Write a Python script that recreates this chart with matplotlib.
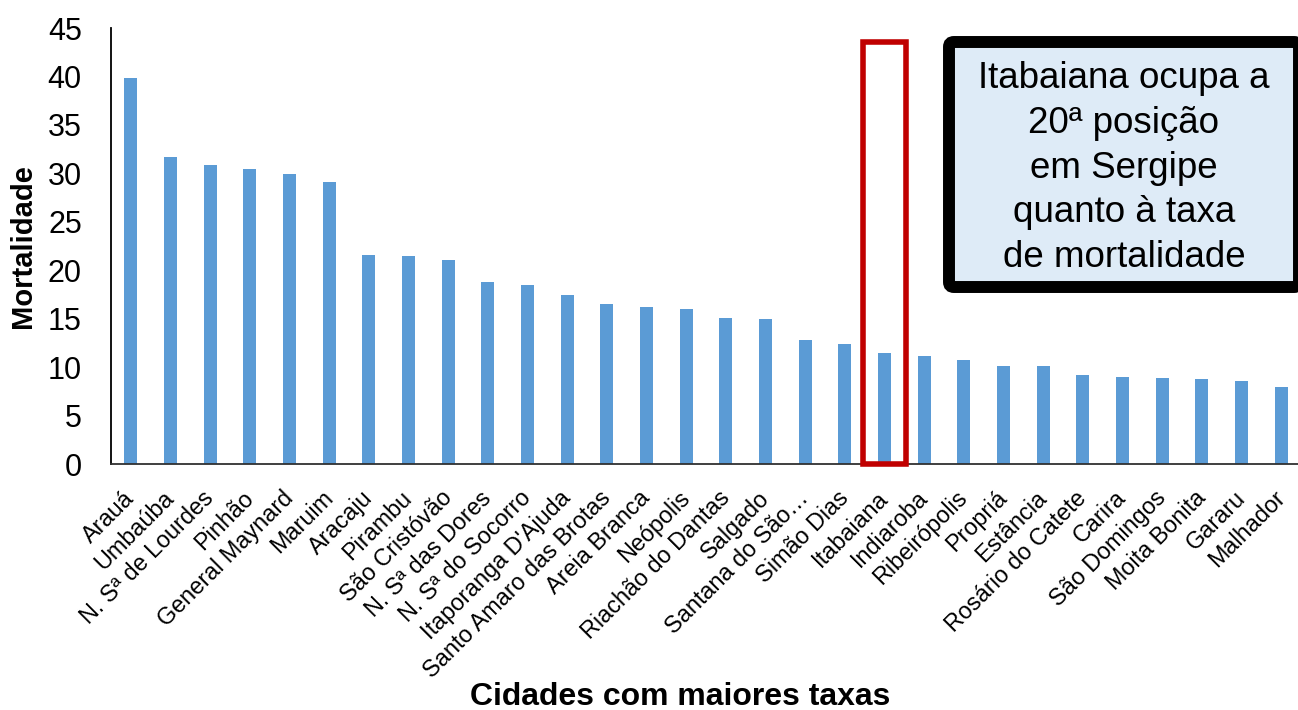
import matplotlib
matplotlib.use("Agg")
import matplotlib.pyplot as plt
from matplotlib.patches import Rectangle, FancyBboxPatch
from matplotlib.transforms import ScaledTranslation

plt.rcParams['font.family'] = ['Liberation Sans', 'DejaVu Sans']

cidades = [
    'Arauá', 'Umbaúba', 'N. Sª de Lourdes', 'Pinhão', 'General Maynard',
    'Maruim', 'Aracaju', 'Pirambu', 'São Cristóvão', 'N. Sª das Dores',
    'N. Sª do Socorro', "Itaporanga D'Ajuda", 'Santo Amaro das Brotas',
    'Areia Branca', 'Neópolis', 'Riachão do Dantas', 'Salgado',
    'Santana do São…', 'Simão Dias', 'Itabaiana', 'Indiaroba',
    'Ribeirópolis', 'Propriá', 'Estância', 'Rosário do Catete', 'Carira',
    'São Domingos', 'Moita Bonita', 'Gararu', 'Malhador',
]
mortalidade = [
    39.8, 31.7, 30.9, 30.4, 29.9, 29.1, 21.6, 21.5, 21.1, 18.8,
    18.5, 17.4, 16.5, 16.2, 16.0, 15.1, 15.0, 12.8, 12.4, 11.5,
    11.1, 10.7, 10.1, 10.1, 9.2, 9.0, 8.9, 8.8, 8.6, 7.9,
]
destaque = 'Itabaiana'
texto_caixa = 'Itabaiana ocupa a\n20ª posição\nem Sergipe\nquanto à taxa\nde mortalidade'

W, H = 1298, 710
fig = plt.figure(figsize=(W / 100, H / 100), dpi=100)
ax = fig.add_axes([111 / W, 1 - 464 / H, 1190 / W, (464 - 28) / H])

x = range(len(cidades))
ax.bar(x, mortalidade, width=0.32, color='#5B9BD5', zorder=2)

ax.set_xlim(-0.5, len(cidades) - 0.5)
ax.set_ylim(0, 45)
ax.set_yticks(range(0, 46, 5))
ax.tick_params(axis='y', length=0, labelsize=22, pad=21)
ax.tick_params(axis='x', length=0, labelsize=16.8, pad=14)
ax.set_xticks(list(x))
ax.set_xticklabels(cidades, rotation=45, ha='right', rotation_mode='anchor')
desloc = ScaledTranslation(-8 / 100, -3 / 100, fig.dpi_scale_trans)
for lab in ax.get_xticklabels():
    lab.set_transform(lab.get_transform() + desloc)

for s in ['top', 'right']:
    ax.spines[s].set_visible(False)
ax.spines['left'].set_color('#000000')
ax.spines['left'].set_linewidth(1.3)
ax.spines['bottom'].set_color('#303030')
ax.spines['bottom'].set_linewidth(1.3)

ax.set_ylabel('Mortalidade', fontsize=21, fontweight='bold')
ax.yaxis.set_label_coords(-(111 - 37) / 1190, 0.5)
ax.set_xlabel('Cidades com maiores taxas', fontsize=23, fontweight='bold', va='center')
ax.xaxis.set_label_coords((680 - 111) / 1190, -(697 - 464) / 436)

# destaque em vermelho
i = cidades.index(destaque)
ax.add_patch(Rectangle((i - 0.535, 0), 1.07, 43.55, fill=False,
                       edgecolor='#C00000', linewidth=4, clip_on=False, zorder=3))

# caixa de texto
caixa = FancyBboxPatch((949, H - 287), 350, 245, boxstyle='round,pad=0,rounding_size=5',
                       transform=None, facecolor='#DEEBF7', edgecolor='black',
                       linewidth=8.6, clip_on=False)
fig.patches.append(caixa)
fig.text(1124 / W, 1 - 168 / H, texto_caixa, ha='center', va='center',
         fontsize=26.5, linespacing=1.36)

fig.savefig('out.png', dpi=100)
